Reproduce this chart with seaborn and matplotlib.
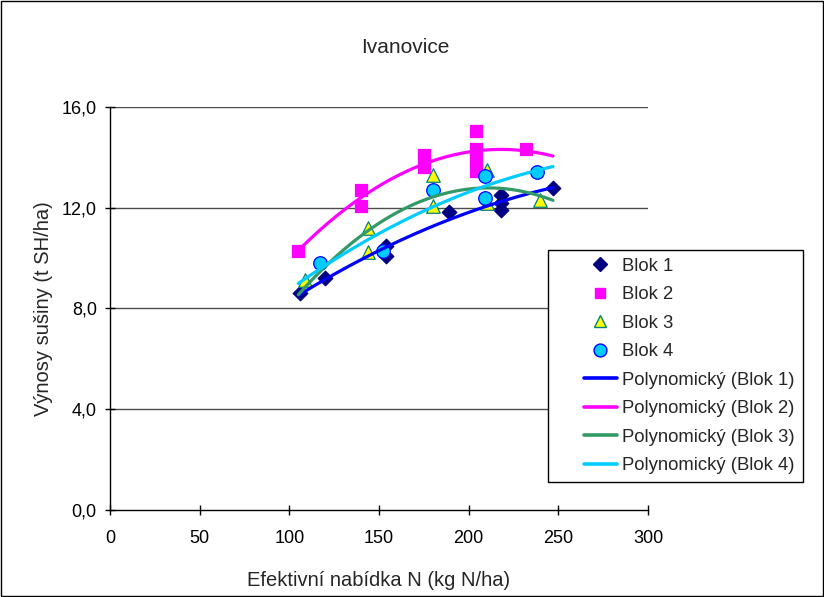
import numpy as np
import pandas as pd
import matplotlib
matplotlib.use("Agg")
import matplotlib.pyplot as plt
import matplotlib.patches as mpatches
from matplotlib.lines import Line2D
from matplotlib.legend_handler import HandlerLine2D
import seaborn as sns

# ---- data ----
blok1_x = [106, 120, 154, 154, 189, 218, 218, 218, 247]
blok1_y = [8.6, 9.2, 10.5, 10.1, 11.85, 12.5, 12.2, 11.9, 12.8]
blok2_x = [105, 140, 140, 175, 175, 204, 204, 204, 204, 232]
blok2_y = [10.3, 12.7, 12.05, 14.1, 13.6, 15.05, 14.35, 13.9, 13.45, 14.35]
blok3_x = [109, 144, 144, 180, 180, 210, 210, 240]
blok3_y = [9.15, 11.2, 10.25, 13.3, 12.05, 13.5, 12.2, 12.3]
blok4_x = [117, 152, 180, 209, 209, 238]
blok4_y = [9.8, 10.3, 12.7, 13.25, 12.4, 13.4]

series_names = ["Blok 1", "Blok 2", "Blok 3", "Blok 4"]
trend_names = ["Polynomický (Blok 1)", "Polynomický (Blok 2)",
               "Polynomický (Blok 3)", "Polynomický (Blok 4)"]
x_ticks = [0, 50, 100, 150, 200, 250, 300]
y_ticks = [0, 4, 8, 12, 16]
y_tick_labels = ["0,0", "4,0", "8,0", "12,0", "16,0"]

xs = [blok1_x, blok2_x, blok3_x, blok4_x]
ys = [blok1_y, blok2_y, blok3_y, blok4_y]

df = pd.concat([pd.DataFrame({"x": x, "y": y, "blok": n})
                for x, y, n in zip(xs, ys, series_names)], ignore_index=True)

# ---- styles ----
marker_style = {
    "Blok 1": dict(marker="D", color="#000080", edgecolor="#000080", s=55),
    "Blok 2": dict(marker="s", color="#FF00FF", edgecolor="#FF00FF", s=65),
    "Blok 3": dict(marker="^", color="#FFFF00", edgecolor="#008080", s=95),
    "Blok 4": dict(marker="o", color="#00CCFF", edgecolor="#0000FF", s=95),
}
line_colors = ["#0000FF", "#FF00FF", "#339966", "#00CCFF"]

sns.set_theme(style="white")
plt.rcParams["font.family"] = ["Liberation Sans", "DejaVu Sans"]

fig = plt.figure(figsize=(8.24, 5.97), dpi=100)
ax = fig.add_axes([0.1335, 0.1457, 0.6529, 0.6751])

for y in y_ticks[1:]:
    ax.axhline(y, color="#4d4d4d", lw=1.0, zorder=0)

for name in series_names:
    st = marker_style[name]
    sub = df[df.blok == name]
    sns.scatterplot(data=sub, x="x", y="y", ax=ax, marker=st["marker"],
                    color=st["color"], edgecolor=st["edgecolor"], s=st["s"],
                    linewidth=0.9, zorder=3, legend=False)

# polynomial (2nd order) trend lines
xmin, xmax = df.x.min(), df.x.max()
xx = np.linspace(xmin, xmax, 200)
for name, col in zip(series_names, line_colors):
    sub = df[df.blok == name]
    c = np.polyfit(sub.x, sub.y, 2)
    sns.lineplot(x=xx, y=np.polyval(c, xx), ax=ax, color=col, lw=2.3,
                 zorder=4, legend=False)

ax.set_xlim(0, 300)
ax.set_ylim(0, 16)
ax.set_xticks(x_ticks)
ax.set_xticklabels([str(t) for t in x_ticks])
ax.set_yticks(y_ticks)
ax.set_yticklabels(y_tick_labels)
ax.tick_params(axis="both", direction="inout", length=7, width=1,
               colors="#000000", labelsize=13, left=True, bottom=True)
ax.tick_params(axis="y", pad=6)
ax.tick_params(axis="x", pad=11)
for s in ["top", "right"]:
    ax.spines[s].set_visible(False)
for s in ["left", "bottom"]:
    ax.spines[s].set_color("#000000")
    ax.spines[s].set_linewidth(1.0)
ax.set_xlabel("Efektivní nabídka N (kg N/ha)", fontsize=14.5, labelpad=17)
ax.set_ylabel("Výnosy sušiny (t SH/ha)", fontsize=14.5, labelpad=6)
ax.set_facecolor("white")

fig.text(0.4915, 0.921, "Ivanovice", ha="center", va="center", fontsize=15)


class RightHandler(HandlerLine2D):
    """Draw the legend key only in the right part of the handle box."""
    frac = 0.45

    def create_artists(self, legend, orig_handle, xdescent, ydescent,
                       width, height, fontsize, trans):
        shift = width * self.frac
        return super().create_artists(legend, orig_handle, xdescent - shift,
                                      ydescent, width - shift, height,
                                      fontsize, trans)


# legend
handles = []
for name in series_names:
    st = marker_style[name]
    handles.append(Line2D([], [], ls="none", marker=st["marker"],
                          markerfacecolor=st["color"],
                          markeredgecolor=st["edgecolor"],
                          markersize=np.sqrt(st["s"]) * 0.95))
for col in line_colors:
    handles.append(Line2D([], [], color=col, lw=2.6))
leg = fig.legend(handles, series_names + trend_names, loc="upper left",
                 bbox_to_anchor=(0.665, 0.582), fontsize=13.3, frameon=True,
                 fancybox=False, edgecolor="#000000", framealpha=1,
                 handlelength=3.3, handletextpad=0.25, labelspacing=0.62,
                 borderpad=0.45, borderaxespad=0,
                 handler_map={Line2D: RightHandler()})
leg.get_frame().set_linewidth(1.0)

fig.patches.append(mpatches.Rectangle((0.0015, 0.002), 0.997, 0.996,
                                      transform=fig.transFigure, fill=False,
                                      edgecolor="#000000", lw=1.0))

fig.savefig("out.png", dpi=100, facecolor="white")
